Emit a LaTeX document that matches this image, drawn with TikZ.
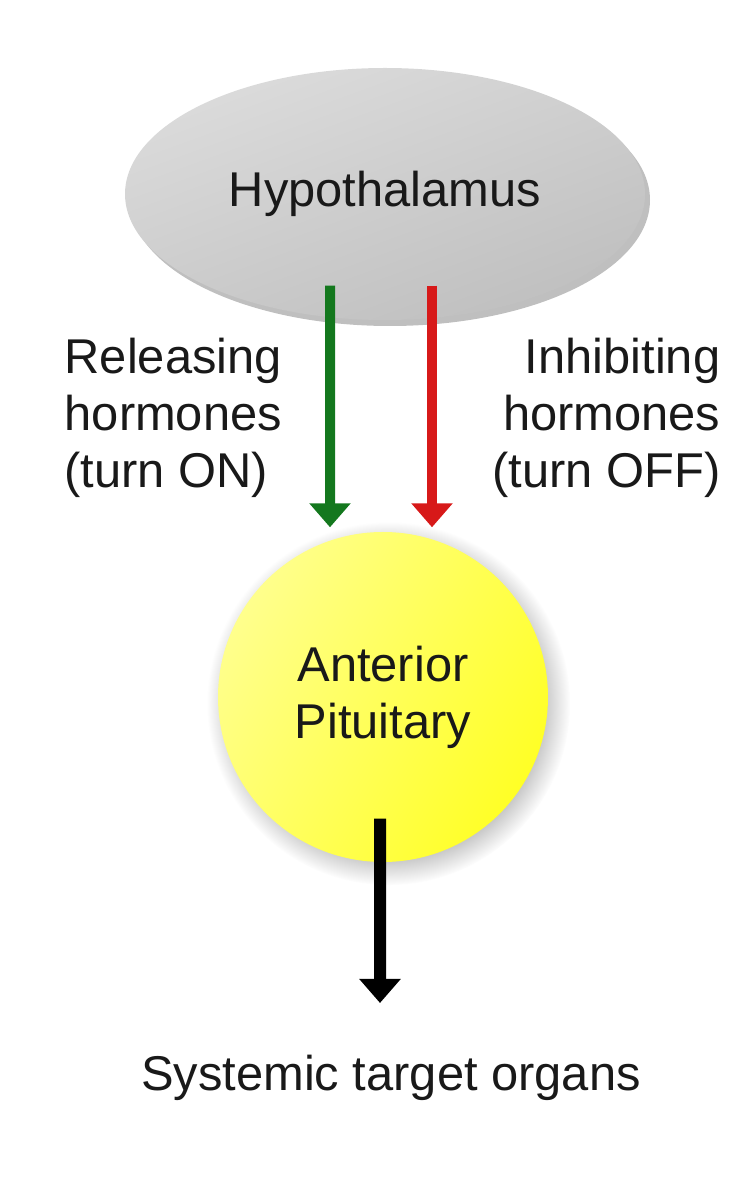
\documentclass[tikz,border=0pt]{standalone}
\usepackage{fontspec}
\setmainfont{Liberation Sans}
\usepackage{xcolor}
\usetikzlibrary{shapes.geometric,arrows.meta,positioning,calc,shadows}

\definecolor{arrgreen}{RGB}{20,120,30}
\definecolor{arrred}{RGB}{215,25,25}

\begin{document}
\begin{tikzpicture}[
    gland/.style={draw=none, font=\fontsize{13.9}{16.2}\selectfont, align=center, text=black!90},
    hypobox/.style={gland, ellipse, minimum width=5.2cm, minimum height=2.52cm,
        top color=gray!28, bottom color=gray!50, shading angle=20,
        drop shadow={shadow xshift=0.05cm, shadow yshift=-0.06cm, opacity=0.5}},
    pitbox/.style={gland, circle, minimum size=3.3cm,
        left color=yellow!45, right color=yellow!85, shading angle=60,
        circular drop shadow={shadow xshift=0.05cm, shadow yshift=-0.06cm, opacity=0.45}},
    label/.style={font=\fontsize{13.9}{16.2}\selectfont, text=black!90, inner sep=0pt},
    hormone/.style={-{Triangle[width=0.4cm, length=0.24cm]}, line width=0.1cm}
]
\useasboundingbox (0,0) rectangle (7.55,12);

% Glands
\node[hypobox] (hypo) at (3.85,10.06) {\raisebox{0.4ex}{Hypothalamus}};
\node[pitbox] (pit) at (3.83,5.03) {Anterior\\Pituitary};

% Hormone labels
\node[label, anchor=west, align=left] (rel) at (0.64,7.82) {Releasing\\hormones\\(turn ON)};
\node[label, anchor=east, align=right] (inh) at (7.21,7.82) {Inhibiting\\hormones\\(turn OFF)};
\node[label] (organs) at (3.91,1.22) {Systemic target organs};

% Arrows
\draw[hormone, arrgreen] ([xshift=-0.55cm, yshift=0.35cm]hypo.south) -- ([xshift=-0.53cm, yshift=0.04cm]pit.north);
\draw[hormone, arrred] ([xshift=0.47cm, yshift=0.35cm]hypo.south) -- ([xshift=0.49cm, yshift=0.04cm]pit.north);
\draw[hormone, black, line width=0.12cm] ([xshift=-0.03cm, yshift=0.44cm]pit.south) -- ($(organs.center)+(-0.11,0.75)$);

\end{tikzpicture}
\end{document}
